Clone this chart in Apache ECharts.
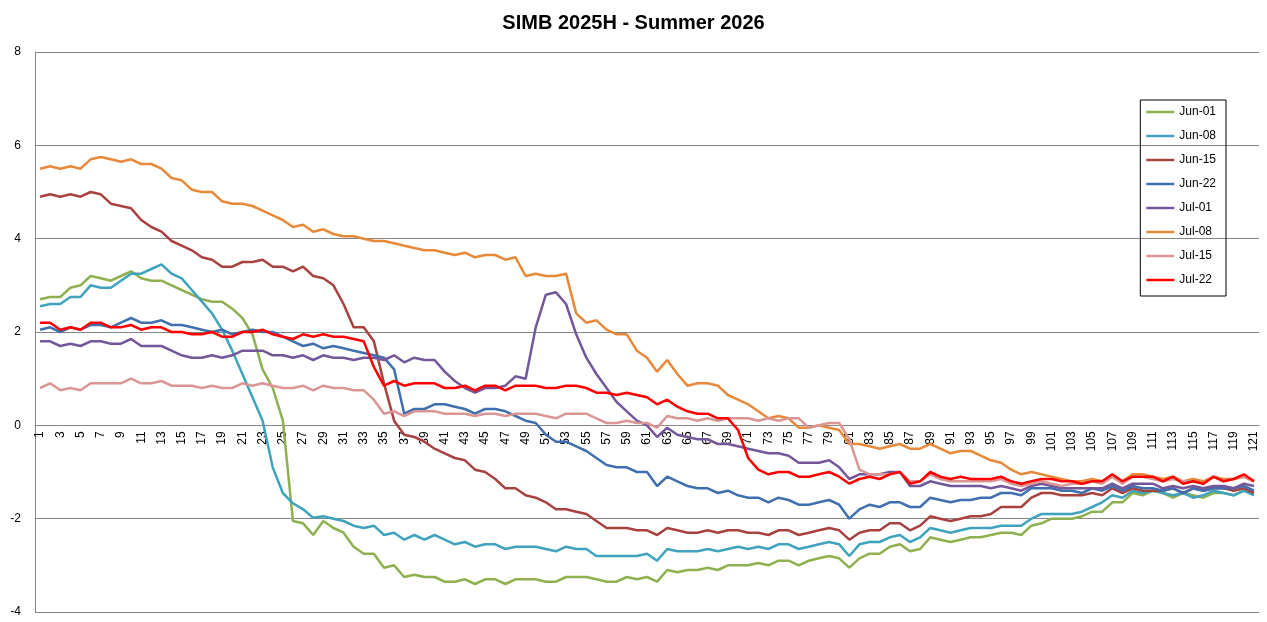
<!DOCTYPE html>
<html><head><meta charset="utf-8">
<script src="https://cdn.jsdelivr.net/npm/echarts@6/dist/echarts.min.js"></script>
<style>html,body{margin:0;padding:0;background:#fff}#c{width:1267px;height:622px}</style>
</head><body><div id="c"></div>
<script>
const categories = Array.from({length:121},(_,i)=>String(i+1));
const names = ['Jun-01','Jun-08','Jun-15','Jun-22','Jul-01','Jul-08','Jul-15','Jul-22'];
const colors = ['#8FB04E','#3FA3BD','#A8423F','#3F6FAE','#73579A','#E8893A','#D99694','#FF0000'];
const jun01 = [2.7,2.75,2.75,2.95,3.0,3.2,3.15,3.1,3.2,3.3,3.15,3.1,3.1,3.0,2.9,2.8,2.7,2.65,2.65,2.5,2.3,1.95,1.2,0.8,0.1,-2.05,-2.1,-2.35,-2.05,-2.2,-2.3,-2.6,-2.75,-2.75,-3.05,-3.0,-3.25,-3.2,-3.25,-3.25,-3.35,-3.35,-3.3,-3.4,-3.3,-3.3,-3.4,-3.3,-3.3,-3.3,-3.35,-3.35,-3.25,-3.25,-3.25,-3.3,-3.35,-3.35,-3.25,-3.3,-3.25,-3.35,-3.1,-3.15,-3.1,-3.1,-3.05,-3.1,-3.0,-3.0,-3.0,-2.95,-3.0,-2.9,-2.9,-3.0,-2.9,-2.85,-2.8,-2.85,-3.05,-2.85,-2.75,-2.75,-2.6,-2.55,-2.7,-2.65,-2.4,-2.45,-2.5,-2.45,-2.4,-2.4,-2.35,-2.3,-2.3,-2.35,-2.15,-2.1,-2.0,-2.0,-2.0,-1.95,-1.85,-1.85,-1.65,-1.65,-1.45,-1.5,-1.4,-1.45,-1.55,-1.45,-1.5,-1.55,-1.45,-1.45,-1.5,-1.4,-1.45];
const jun08 = [2.55,2.6,2.6,2.75,2.75,3.0,2.95,2.95,3.1,3.25,3.25,3.35,3.45,3.25,3.15,2.9,2.65,2.4,2.05,1.6,1.1,0.6,0.1,-0.9,-1.45,-1.67,-1.8,-1.98,-1.95,-2.0,-2.05,-2.15,-2.2,-2.15,-2.35,-2.3,-2.45,-2.35,-2.45,-2.35,-2.45,-2.55,-2.5,-2.6,-2.55,-2.55,-2.65,-2.6,-2.6,-2.6,-2.65,-2.7,-2.6,-2.65,-2.65,-2.8,-2.8,-2.8,-2.8,-2.8,-2.75,-2.9,-2.65,-2.7,-2.7,-2.7,-2.65,-2.7,-2.65,-2.6,-2.65,-2.6,-2.65,-2.55,-2.55,-2.65,-2.6,-2.55,-2.5,-2.55,-2.8,-2.55,-2.5,-2.5,-2.4,-2.35,-2.5,-2.4,-2.2,-2.25,-2.3,-2.25,-2.2,-2.2,-2.2,-2.15,-2.15,-2.15,-2.0,-1.9,-1.9,-1.9,-1.9,-1.85,-1.75,-1.65,-1.5,-1.55,-1.4,-1.45,-1.4,-1.45,-1.5,-1.45,-1.55,-1.5,-1.4,-1.45,-1.5,-1.4,-1.5];
const jun15 = [4.9,4.95,4.9,4.95,4.9,5.0,4.95,4.75,4.7,4.65,4.4,4.25,4.15,3.95,3.85,3.75,3.6,3.55,3.4,3.4,3.5,3.5,3.55,3.4,3.4,3.3,3.4,3.2,3.15,3.0,2.6,2.1,2.1,1.8,0.9,0.1,-0.2,-0.25,-0.35,-0.5,-0.6,-0.7,-0.75,-0.95,-1.0,-1.15,-1.35,-1.35,-1.5,-1.55,-1.65,-1.8,-1.8,-1.85,-1.9,-2.05,-2.2,-2.2,-2.2,-2.25,-2.25,-2.35,-2.2,-2.25,-2.3,-2.3,-2.25,-2.3,-2.25,-2.25,-2.3,-2.3,-2.35,-2.25,-2.25,-2.35,-2.3,-2.25,-2.2,-2.25,-2.45,-2.3,-2.25,-2.25,-2.1,-2.1,-2.25,-2.15,-1.95,-2.0,-2.05,-2.0,-1.95,-1.95,-1.9,-1.75,-1.75,-1.75,-1.55,-1.45,-1.45,-1.5,-1.5,-1.5,-1.45,-1.5,-1.35,-1.45,-1.35,-1.4,-1.4,-1.4,-1.35,-1.45,-1.35,-1.4,-1.35,-1.35,-1.4,-1.35,-1.45];
const jun22 = [2.05,2.1,2.0,2.1,2.05,2.15,2.15,2.1,2.2,2.3,2.2,2.2,2.25,2.15,2.15,2.1,2.05,2.0,2.05,1.95,2.0,2.05,2.0,2.0,1.9,1.8,1.7,1.75,1.65,1.7,1.65,1.6,1.55,1.5,1.45,1.2,0.25,0.35,0.35,0.45,0.45,0.4,0.35,0.25,0.35,0.35,0.3,0.2,0.1,0.05,-0.2,-0.35,-0.35,-0.45,-0.55,-0.7,-0.85,-0.9,-0.9,-1.0,-1.0,-1.3,-1.1,-1.2,-1.3,-1.35,-1.35,-1.45,-1.4,-1.5,-1.55,-1.55,-1.65,-1.55,-1.6,-1.7,-1.7,-1.65,-1.6,-1.7,-2.0,-1.8,-1.7,-1.75,-1.65,-1.65,-1.75,-1.75,-1.55,-1.6,-1.65,-1.6,-1.6,-1.55,-1.55,-1.45,-1.45,-1.5,-1.35,-1.35,-1.35,-1.4,-1.4,-1.45,-1.35,-1.4,-1.3,-1.4,-1.3,-1.35,-1.35,-1.4,-1.35,-1.45,-1.35,-1.4,-1.35,-1.35,-1.35,-1.3,-1.4];
const jul01 = [1.8,1.8,1.7,1.75,1.7,1.8,1.8,1.75,1.75,1.85,1.7,1.7,1.7,1.6,1.5,1.45,1.45,1.5,1.45,1.5,1.6,1.6,1.6,1.5,1.5,1.45,1.5,1.4,1.5,1.45,1.45,1.4,1.45,1.45,1.4,1.5,1.35,1.45,1.4,1.4,1.15,0.95,0.8,0.7,0.8,0.8,0.85,1.05,1.0,2.1,2.8,2.85,2.6,1.95,1.45,1.1,0.8,0.5,0.3,0.1,0.0,-0.25,-0.05,-0.2,-0.25,-0.3,-0.3,-0.4,-0.4,-0.45,-0.5,-0.55,-0.6,-0.6,-0.65,-0.8,-0.8,-0.8,-0.75,-0.9,-1.15,-1.05,-1.05,-1.05,-1.0,-1.0,-1.3,-1.3,-1.2,-1.25,-1.3,-1.3,-1.3,-1.3,-1.35,-1.3,-1.35,-1.4,-1.3,-1.25,-1.3,-1.35,-1.35,-1.35,-1.35,-1.35,-1.25,-1.35,-1.25,-1.25,-1.25,-1.35,-1.3,-1.35,-1.3,-1.35,-1.3,-1.3,-1.35,-1.25,-1.3];
const jul08 = [5.5,5.55,5.5,5.55,5.5,5.7,5.75,5.7,5.65,5.7,5.6,5.6,5.5,5.3,5.25,5.05,5.0,5.0,4.8,4.75,4.75,4.7,4.6,4.5,4.4,4.25,4.3,4.15,4.2,4.1,4.05,4.05,4.0,3.95,3.95,3.9,3.85,3.8,3.75,3.75,3.7,3.65,3.7,3.6,3.65,3.65,3.55,3.6,3.2,3.25,3.2,3.2,3.25,2.4,2.2,2.25,2.05,1.95,1.95,1.6,1.45,1.15,1.4,1.1,0.85,0.9,0.9,0.85,0.65,0.55,0.45,0.3,0.15,0.2,0.15,-0.05,-0.05,0.0,-0.05,-0.1,-0.4,-0.4,-0.45,-0.5,-0.45,-0.4,-0.5,-0.5,-0.4,-0.5,-0.6,-0.55,-0.55,-0.65,-0.75,-0.8,-0.95,-1.05,-1.0,-1.05,-1.1,-1.15,-1.2,-1.2,-1.15,-1.2,-1.1,-1.2,-1.05,-1.05,-1.1,-1.15,-1.1,-1.2,-1.15,-1.2,-1.1,-1.15,-1.15,-1.1,-1.2];
const jul15 = [0.8,0.9,0.75,0.8,0.75,0.9,0.9,0.9,0.9,1.0,0.9,0.9,0.95,0.85,0.85,0.85,0.8,0.85,0.8,0.8,0.9,0.85,0.9,0.85,0.8,0.8,0.85,0.75,0.85,0.8,0.8,0.75,0.75,0.55,0.25,0.3,0.2,0.3,0.3,0.3,0.25,0.25,0.25,0.2,0.25,0.25,0.2,0.25,0.25,0.25,0.2,0.15,0.25,0.25,0.25,0.15,0.05,0.05,0.1,0.05,0.05,-0.05,0.2,0.15,0.15,0.1,0.15,0.1,0.15,0.15,0.15,0.1,0.15,0.1,0.15,0.15,-0.05,0.0,0.05,0.05,-0.3,-0.95,-1.05,-1.05,-1.05,-1.0,-1.2,-1.2,-1.05,-1.15,-1.2,-1.2,-1.2,-1.2,-1.2,-1.15,-1.25,-1.3,-1.25,-1.2,-1.25,-1.3,-1.25,-1.25,-1.2,-1.25,-1.1,-1.25,-1.1,-1.1,-1.15,-1.2,-1.15,-1.2,-1.2,-1.25,-1.1,-1.2,-1.15,-1.1,-1.2];
const jul22 = [2.2,2.2,2.05,2.1,2.05,2.2,2.2,2.1,2.1,2.15,2.05,2.1,2.1,2.0,2.0,1.95,1.95,2.0,1.9,1.9,2.0,2.0,2.05,1.95,1.9,1.85,1.95,1.9,1.95,1.9,1.9,1.85,1.8,1.25,0.85,0.95,0.85,0.9,0.9,0.9,0.8,0.8,0.85,0.75,0.85,0.85,0.75,0.85,0.85,0.85,0.8,0.8,0.85,0.85,0.8,0.7,0.7,0.65,0.7,0.65,0.6,0.45,0.55,0.4,0.3,0.25,0.25,0.15,0.15,-0.1,-0.7,-0.95,-1.05,-1.0,-1.0,-1.1,-1.1,-1.05,-1.0,-1.1,-1.25,-1.15,-1.1,-1.15,-1.05,-1.0,-1.25,-1.2,-1.0,-1.1,-1.15,-1.1,-1.15,-1.15,-1.15,-1.1,-1.2,-1.25,-1.2,-1.15,-1.15,-1.2,-1.2,-1.25,-1.2,-1.2,-1.05,-1.2,-1.1,-1.1,-1.1,-1.2,-1.1,-1.25,-1.2,-1.25,-1.1,-1.2,-1.15,-1.05,-1.2];
const allData = [jun01,jun08,jun15,jun22,jul01,jul08,jul15,jul22];
const yTicks = {min:-4,max:8,interval:2};

const chart = echarts.init(document.getElementById('c'));
chart.setOption({
  animation:false,
  title:{text:'SIMB 2025H - Summer 2026',left:'center',top:8,textStyle:{fontFamily:'Liberation Sans, Arial',fontSize:20,fontWeight:'bold',color:'#000'}},
  grid:{left:35,right:8,top:52,bottom:10,outerBoundsMode:'none',containLabel:false},
  legend:{orient:'vertical',right:41,top:100,width:83,padding:[6,10,10,6],itemGap:12,itemWidth:28,itemHeight:14,
    borderColor:'#000',borderWidth:1,icon:'path://M0,6 L28,6 L28,8.5 L0,8.5 Z',
    textStyle:{fontFamily:'Liberation Sans, Arial',fontSize:12,color:'#000'},data:names},
  xAxis:{type:'category',data:categories,boundaryGap:true,
    axisLine:{onZero:false,lineStyle:{color:'#868686'}},offset:-186.67,
    axisTick:{alignWithLabel:true,interval:0,length:5,lineStyle:{color:'#868686'}},
    axisLabel:{interval:1,rotate:90,fontFamily:'Liberation Sans, Arial',fontSize:12,color:'#000',margin:6},
    splitLine:{show:false}},
  yAxis:{type:'value',min:yTicks.min,max:yTicks.max,interval:yTicks.interval,
    axisLine:{show:true,lineStyle:{color:'#868686'}},axisTick:{show:false},
    axisLabel:{fontFamily:'Liberation Sans, Arial',fontSize:12,color:'#000',margin:14},
    splitLine:{lineStyle:{color:'#868686'}}},
  series:names.map((n,i)=>({name:n,type:'line',data:allData[i],showSymbol:false,symbol:'none',
    lineStyle:{width:2.5,color:colors[i]},itemStyle:{color:colors[i]}}))
});
</script></body></html>
